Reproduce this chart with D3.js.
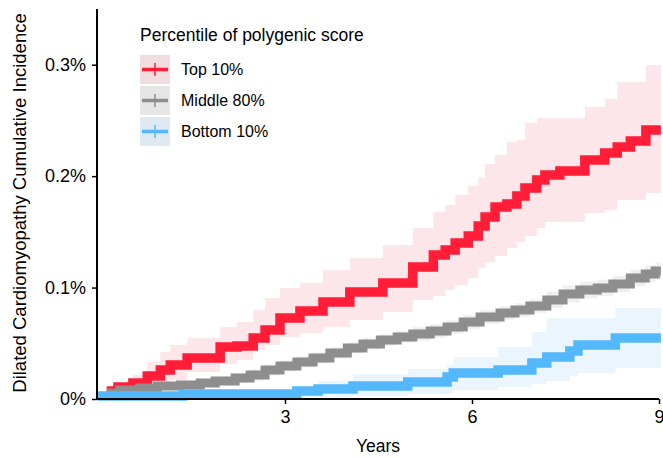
<!DOCTYPE html>
<html>
<head>
<meta charset="utf-8">
<script src="https://cdn.jsdelivr.net/npm/d3@7"></script>
<style>
  body { margin: 0; background: #fff; }
  svg { display: block; font-family: "Liberation Sans", Arial, sans-serif; }
</style>
</head>
<body>
<div id="chart-1"></div>
<script>
var groups = ["Top 10%", "Middle 80%", "Bottom 10%"];
var xTicks = [3, 6, 9];
var yTicks = [0, 0.1, 0.2, 0.3];

// Top 10%: years, estimate (%), lower and upper bound (%)
var topTime = [0.14, 0.32, 0.56, 0.79, 1.0, 1.16, 1.43, 1.96, 2.23, 2.49, 2.68, 2.92, 3.24, 3.61, 4.04, 4.57, 5.05, 5.38, 5.57, 5.73, 5.94, 6.1, 6.21, 6.37, 6.56, 6.72, 6.85, 7.04, 7.17, 7.41, 7.81, 8.13, 8.33, 8.54, 8.79, 9.03];
var topEst  = [0.0072, 0.0108, 0.0144, 0.0206, 0.026, 0.0305, 0.0368, 0.0467, 0.0476, 0.0547, 0.0619, 0.0727, 0.079, 0.087, 0.096, 0.1041, 0.1185, 0.1292, 0.1337, 0.14, 0.1463, 0.1553, 0.1633, 0.1723, 0.175, 0.1822, 0.1894, 0.1965, 0.201, 0.2046, 0.2145, 0.2208, 0.2262, 0.2315, 0.2414, 0.2414];
var topLow  = [0.0027, 0.0045, 0.0063, 0.0099, 0.0135, 0.0171, 0.0242, 0.0314, 0.035, 0.044, 0.0485, 0.0556, 0.0592, 0.0646, 0.0709, 0.0781, 0.0888, 0.0924, 0.0978, 0.1023, 0.1086, 0.1176, 0.1229, 0.1283, 0.1355, 0.1409, 0.1463, 0.1535, 0.1588, 0.1588, 0.1669, 0.1696, 0.1786, 0.1786, 0.1849, 0.1849];
var topHigh = [0.0099, 0.0144, 0.0215, 0.0332, 0.0422, 0.0485, 0.0547, 0.0646, 0.0691, 0.0799, 0.0906, 0.0996, 0.1041, 0.1158, 0.1265, 0.1382, 0.1535, 0.1678, 0.1741, 0.1831, 0.1912, 0.1983, 0.2109, 0.219, 0.2306, 0.2324, 0.2477, 0.2522, 0.2522, 0.2522, 0.262, 0.2692, 0.2845, 0.2845, 0.2997, 0.2997];

// Middle 80%
var midTime = [0.14, 0.35, 0.67, 0.95, 1.32, 1.64, 1.88, 2.2, 2.44, 2.68, 2.92, 3.19, 3.45, 3.72, 4.0, 4.25, 4.53, 4.8, 5.05, 5.33, 5.6, 5.86, 6.13, 6.45, 6.69, 6.93, 7.2, 7.46, 7.73, 8.01, 8.26, 8.54, 8.78, 8.94, 9.03];
var midEst  = [0.0054, 0.0081, 0.0099, 0.0117, 0.0126, 0.0144, 0.0162, 0.0189, 0.0215, 0.026, 0.0296, 0.0332, 0.0368, 0.0413, 0.0458, 0.0494, 0.053, 0.0557, 0.0583, 0.061, 0.0646, 0.0691, 0.0736, 0.0772, 0.0799, 0.0835, 0.0889, 0.0942, 0.0978, 0.0996, 0.1032, 0.1086, 0.1122, 0.1149, 0.1149];
var midLow  = [0.0024, 0.0051, 0.0069, 0.0087, 0.0096, 0.0114, 0.0122, 0.0144, 0.0165, 0.021, 0.0246, 0.0282, 0.0318, 0.0363, 0.0408, 0.0444, 0.048, 0.0507, 0.0523, 0.055, 0.0586, 0.0631, 0.0676, 0.0712, 0.0739, 0.0775, 0.0814, 0.0867, 0.0903, 0.0921, 0.0957, 0.1011, 0.1047, 0.1074, 0.1074];
var midHigh = [0.0084, 0.0111, 0.0129, 0.0147, 0.0156, 0.0174, 0.0202, 0.0234, 0.0265, 0.031, 0.0346, 0.0382, 0.0418, 0.0463, 0.0508, 0.0544, 0.058, 0.0607, 0.0643, 0.067, 0.0706, 0.0751, 0.0796, 0.0832, 0.0859, 0.0895, 0.0964, 0.1017, 0.1053, 0.1071, 0.1107, 0.1161, 0.1197, 0.1224, 0.1224];

// Bottom 10%
var botTime = [0, 1.36, 3.19, 3.53, 4.09, 4.97, 5.6, 5.7, 6.42, 6.96, 7.2, 7.57, 7.7, 8.3, 9.03];
var botEst  = [0.0027, 0.0045, 0.0072, 0.009, 0.0117, 0.0153, 0.0197, 0.0233, 0.026, 0.0323, 0.0377, 0.0431, 0.0485, 0.0547, 0.0547];
var botLow  = [0, 0.0009, 0.0013, 0.0018, 0.0027, 0.0045, 0.0054, 0.0081, 0.0108, 0.0135, 0.0162, 0.0206, 0.0233, 0.0278, 0.0278];
var botHigh = [0.004, 0.0063, 0.0117, 0.0162, 0.0224, 0.0269, 0.0305, 0.0377, 0.0467, 0.0601, 0.0727, 0.0727, 0.0727, 0.0817, 0.0817];

var colors = ["#ff1d38", "#8e8e8e", "#54b8fd"];
var bandColors = ["#fde6e9", "#efefef", "#eaf5fd"];
var keyColors = ["#f1dde0", "#e6e6e6", "#dfe9f1"];

function build(time, est, low, high) {
    return time.map(function(t, i) {
        return {t: t, est: est[i], low: low[i], high: high[i]};
    });
}

var series = [
    build(topTime, topEst, topLow, topHigh),
    build(midTime, midEst, midLow, midHigh),
    build(botTime, botEst, botLow, botHigh)
];

var margin = {top: 9, right: 4, bottom: 59, left: 98},
    width = 663 - margin.left - margin.right,
    height = 458 - margin.top - margin.bottom;

var x = d3.scaleLinear().domain([0, 9]).range([0, 561]);
var y = d3.scaleLinear().domain([0, 0.35]).range([height, 0]);

var svg = d3.select("#chart-1")
    .append("svg")
    .attr("width", 663)
    .attr("height", 458)
    .append("g")
    .attr("transform", "translate(" + margin.left + "," + margin.top + ")");

var band = d3.area()
    .curve(d3.curveStepAfter)
    .x(function(d) { return x(d.t); })
    .y0(function(d) { return y(d.low); })
    .y1(function(d) { return y(d.high); });

var line = d3.line()
    .curve(d3.curveStepAfter)
    .x(function(d) { return x(d.t); })
    .y(function(d) { return y(d.est); });

// confidence bands under the curves
series.forEach(function(s, i) {
    svg.append("path")
        .attr("d", band(s))
        .style("fill", bandColors[i]);
});

series.forEach(function(s, i) {
    svg.append("path")
        .attr("d", line(s))
        .style("fill", "none")
        .style("stroke", colors[i])
        .style("stroke-width", i === 1 ? "9px" : "9.5px");
});

// axes
var xAxis = d3.axisBottom(x)
    .tickValues(xTicks)
    .tickSize(5)
    .tickPadding(6)
    .tickSizeOuter(0);

var yAxis = d3.axisLeft(y)
    .tickValues(yTicks)
    .tickSize(5)
    .tickPadding(6)
    .tickSizeOuter(0)
    .tickFormat(function(d) { return d === 0 ? "0%" : d3.format(".1f")(d) + "%"; });

var gx = svg.append("g")
    .attr("transform", "translate(0," + height + ")")
    .call(xAxis);
gx.select(".domain").attr("d", "M-1,0H561").style("stroke-width", "2px");
gx.selectAll(".tick line").style("stroke-width", "1.5px");
gx.selectAll("text").style("font-size", "18px").style("fill", "#000");

var gy = svg.append("g")
    .attr("transform", "translate(-1,0)")
    .call(yAxis);
gy.select(".domain").attr("d", "M0," + (height + 1) + "V0").style("stroke-width", "2px");
gy.selectAll(".tick line").style("stroke-width", "1.5px");
gy.selectAll("text").style("font-size", "18px").style("fill", "#000");

svg.append("text")
    .attr("x", 280)
    .attr("y", height + 53)
    .attr("text-anchor", "middle")
    .style("font-size", "17.5px")
    .text("Years");

svg.append("text")
    .attr("transform", "translate(-72," + (height / 2 - 1) + ") rotate(-90)")
    .attr("text-anchor", "middle")
    .style("font-size", "18.5px")
    .text("Dilated Cardiomyopathy Cumulative Incidence");

// legend
var legend = svg.append("g").attr("transform", "translate(42,0)");

legend.append("text")
    .attr("x", 0)
    .attr("y", 32)
    .style("font-size", "17.5px")
    .text("Percentile of polygenic score");

groups.forEach(function(g, i) {
    var row = legend.append("g").attr("transform", "translate(0," + (46 + i * 31) + ")");
    row.append("rect")
        .attr("width", 30)
        .attr("height", 29)
        .style("fill", keyColors[i]);
    row.append("line")
        .attr("x1", 2).attr("x2", 28)
        .attr("y1", 14.5).attr("y2", 14.5)
        .style("stroke", colors[i])
        .style("stroke-width", "3.5px");
    row.append("line")
        .attr("x1", 15).attr("x2", 15)
        .attr("y1", 8).attr("y2", 21)
        .style("stroke", colors[i])
        .style("stroke-width", "1.5px");
    row.append("text")
        .attr("x", 41)
        .attr("y", 20)
        .style("font-size", "16px")
        .text(g);
});
</script>
</body>
</html>
